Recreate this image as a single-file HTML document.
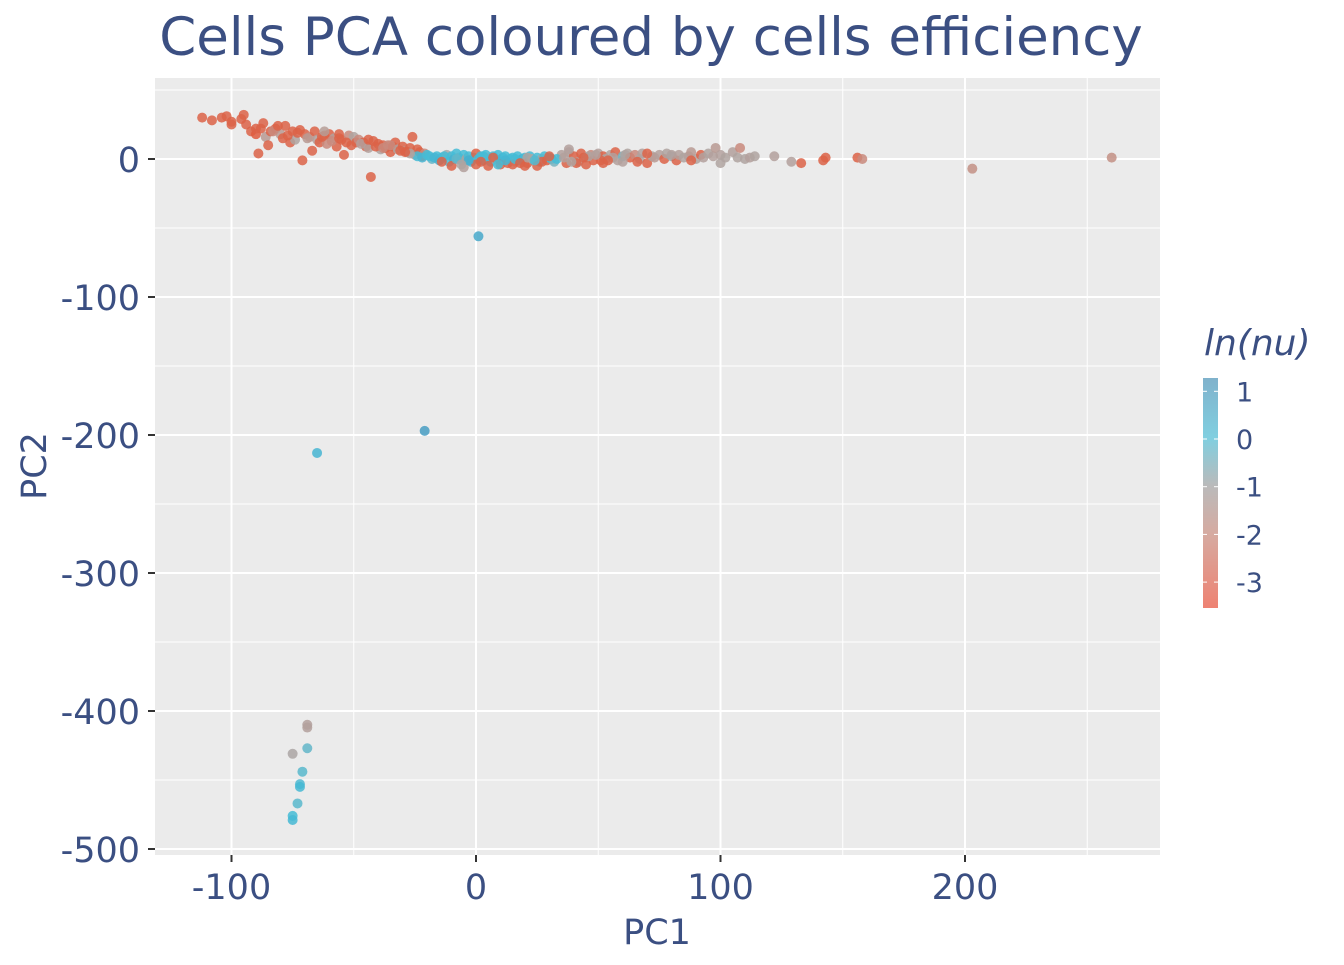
<!DOCTYPE html>
<html><head><meta charset="utf-8"><style>
body{margin:0;background:#fff;}
svg text{font-family:"DejaVu Sans","Liberation Sans",sans-serif;fill:#3b4f82;}
</style></head><body>
<svg id="chart" width="1344" height="960" xmlns="http://www.w3.org/2000/svg">
<text x="651" y="55" font-size="53" text-anchor="middle">Cells PCA coloured by cells efficiency</text>
<rect x="155" y="78" width="1005" height="777" fill="#ebebeb"/>
<g id="grid"></g><g id="points"></g><g id="axes"></g>
<text x="657" y="944" font-size="35" text-anchor="middle">PC1</text>
<text transform="translate(46,466) rotate(-90)" font-size="35" text-anchor="middle">PC2</text>
<text x="1204" y="355" font-size="36" font-style="italic">ln(nu)</text>
<defs><linearGradient id="cg" x1="0" y1="1" x2="0" y2="0">
<stop offset="0" stop-color="#ee8272"/><stop offset="0.32" stop-color="#d6aaa0"/><stop offset="0.53" stop-color="#bababa"/><stop offset="0.74" stop-color="#80cfe0"/><stop offset="1" stop-color="#80b2cc"/></linearGradient></defs>
<rect x="1203" y="378" width="15" height="230" fill="url(#cg)"/>
<g id="legend"></g>
</svg>
<script>
const pc1=[-112,-108,-104,-102,-100,-100,-96,-95,-94,-92,-90,-89,-88,-86,-85,-84,-82,-80,-79,-78,-76,-75,-74,-72,-71,-70,-68,-67,-66,-65,-64,-62,-61,-60,-58,-57,-56,-55,-54,-52,-51,-50,-49,-48,-46,-45,-44,-43,-42,-40,-39,-38,-37,-36,-35,-34,-33,-32,-30,-29,-28,-27,-26,-25,-24,-23,-22,-21,
-24,-22,-20,-18,-16,-15,-14,-12,-11,-10,-9,-8,-7,-6,-5,-4,-3,-2,-1,0,1,2,3,4,5,6,7,8,9,10,11,12,13,14,15,16,17,18,19,20,21,22,23,24,25,26,27,28,29,30,31,32,-10,-5,0,5,10,15,20,25,
35,37,38,40,42,43,45,47,48,50,52,53,55,57,58,60,62,63,65,67,68,70,72,73,75,77,78,80,82,83,85,87,88,90,92,93,95,97,98,100,102,105,107,108,110,112,114,38,45,52,60,70,80,88,100,
122,129,133,142,143,156,158,203,260,1,-21,-65,-69,-69,-75,-69,-71,-72,-72,-73,-75,-75,
-90,-83,-77,-73,-69,-63,-59,-53,-47,-41,-38,-31,-27,-19,-17,-13,-8,-3,3,7,12,16,21,27,33,36,41,46,51,56,61,66,-87,-81,-62,-56,-44,-35,-29,-14,-6,2,9,18,24,30,39,44,49,54];
const pc2=[30,28,30,31,27,25,29,32,25,20,18,4,22,16,10,20,22,18,15,24,12,20,14,21,-1,18,16,6,20,14,12,17,11,18,15,9,18,14,3,17,10,16,12,14,12,9,8,-13,13,11,7,10,8,10,5,9,12,7,9,6,5,8,16,3,7,5,2,4,
2,1,3,0,2,-1,1,3,-2,2,0,4,1,-1,3,0,2,-2,1,4,0,2,-1,3,1,-2,2,0,3,-1,1,2,-3,0,1,-2,2,-1,0,1,-3,2,0,-1,1,-2,0,2,-1,1,0,-2,-5,-6,-4,-5,-4,-4,-5,-5,
3,-3,5,2,-2,4,1,3,-1,4,2,0,3,5,-1,2,4,1,3,0,4,-3,2,1,3,0,4,2,-1,3,1,2,5,0,3,1,4,2,8,3,1,5,1,8,0,1,2,7,-4,-3,-2,4,3,-1,-3,
2,-2,-3,-1,1,1,0,-7,1,-56,-197,-213,-410,-412,-431,-427,-444,-453,-455,-467,-476,-479,
22,20,17,19,15,16,13,12,11,9,8,6,4,2,1,2,0,-1,2,1,-1,0,1,-2,0,1,-3,2,-1,1,3,-2,26,24,20,15,14,10,5,-2,-4,-2,-4,-3,-1,2,-2,1,3,-1];
const lnnu=[-3,-3,-3,-3,-3,-3,-3,-3,-3,-3,-3.2,-3,-3,-1.5,-3,-3,-3,-1.5,-3,-3,-3,-3,-1.2,-3,-3,-3,-2,-3,-3,-1.3,-3,-3,-2,-3,-1.3,-3,-3,-3,-3,-2,-3,-1.2,-3,-2,-3,-3,-1.3,-3,-3,-3,-1.2,-3,-3,-2,-3,-3,-3,-1.2,-3,-2,-3,-3,-3,-1.3,-3,-3,-3,-2,
0,0.2,0,-0.3,0,0.5,0,-1,0,0,0.3,0,-0.2,0,0,-1.2,0,0.2,0,-3,0,0,0.4,0,-0.5,0,0,-1,0,0,0.2,0,-3,0,0,-1.2,0,0,0.3,0,-3,0,-1,0,0,0.2,-1.3,0,-3,0,0,-0.5,-3,-1.3,-3,-3,-3,-3,-3,-3,
-1.3,-3,-1.2,-3,-1.5,-3,-1.2,-2,-3,-1.3,-3,-1,-1.2,-3,-1.3,-0.5,-1.2,-3,-2,-1,-1.3,-3,-1.2,-1.5,-1.3,-3,-1.2,-0.8,-3,-1.3,-1.2,-1.3,-1.5,-1.2,-3,-1.3,-1.2,-1.3,-1.5,-1.3,-1.2,-1.3,-1.2,-2,-1.2,-1.3,-1.2,-1.3,-3,-3,-1.3,-3,-1.3,-3,-1.2,
-1.3,-1.3,-3,-3,-3,-3,-2,-1.8,-1.8,0.6,0.9,0.2,-1.3,-1.3,-1.1,-0.3,-0.2,-0.1,0.1,-0.2,0,0.1,
-3,-2,-3,-3,-1.5,-3,-2,-3,-1.3,-3,-2,-3,-1.2,0,0.2,0,-0.3,0.4,0,-3,0.2,0,-1.2,-3,0,-1.3,-3,-1.2,-3,-1.3,-1.2,-3,-3,-3,-1.4,-3,-3,-2,-3,-3,-1.2,-3,0,-3,-0.2,-3,-1.2,-3,-1.3,-3];
const xTicks=[-100,0,100,200];
const xMinor=[-50,50,150,250];
const yTicks=[0,-100,-200,-300,-400,-500];
const yMinor=[50,-50,-150,-250,-350,-450];
const legendTicks=[1,0,-1,-2,-3];

const NS='http://www.w3.org/2000/svg';
const X=v=>476+v*2.445, Y=v=>159-v*1.38, L=v=>439-v*47.7;
function mk(tag,attrs,parent){const e=document.createElementNS(NS,tag);for(const k in attrs)e.setAttribute(k,attrs[k]);parent.appendChild(e);return e;}
const stops=[[-3.5,[229,80,46]],[-2,[201,138,124]],[-1,[169,169,169]],[0,[69,188,214]],[1.3,[74,144,187]]];
function col(v){if(v<=stops[0][0])return 'rgb('+stops[0][1]+')';for(let i=1;i<stops.length;i++){if(v<=stops[i][0]){const a=stops[i-1],b=stops[i],t=(v-a[0])/(b[0]-a[0]);return 'rgb('+a[1].map((c,j)=>Math.round(c+(b[1][j]-c)*t))+')';}}return 'rgb('+stops[stops.length-1][1]+')';}
const g=document.getElementById('grid'),p=document.getElementById('points'),ax=document.getElementById('axes'),lg=document.getElementById('legend');
xMinor.forEach(v=>{const e=mk('line',{x1:X(v),x2:X(v),y1:78,y2:855,stroke:'#fff','stroke-width':1},g);});
yMinor.forEach(v=>{const e=mk('line',{x1:155,x2:1160,y1:Y(v),y2:Y(v),stroke:'#fff','stroke-width':1},g);});
xTicks.forEach(v=>{const e=mk('line',{x1:X(v),x2:X(v),y1:78,y2:855,stroke:'#fff','stroke-width':2},g);
const t=mk('line',{x1:X(v),x2:X(v),y1:855,y2:862,stroke:'#333','stroke-width':2},ax);
const l=mk('text',{x:X(v),y:899,'font-size':35,'text-anchor':'middle'},ax);l.textContent=v;});
yTicks.forEach(v=>{const e=mk('line',{x1:155,x2:1160,y1:Y(v),y2:Y(v),stroke:'#fff','stroke-width':2},g);
const t=mk('line',{x1:148,x2:155,y1:Y(v),y2:Y(v),stroke:'#333','stroke-width':2},ax);
const l=mk('text',{x:140,y:Y(v)+13,'font-size':35,'text-anchor':'end'},ax);l.textContent=v;});
pc1.forEach((v,i)=>{const c=mk('circle',{cx:X(v),cy:Y(pc2[i]),r:5,fill:col(lnnu[i]),'fill-opacity':0.85},p);});
legendTicks.forEach(v=>{const t=mk('line',{x1:1203,x2:1207,y1:L(v),y2:L(v),stroke:'#fff','stroke-width':1},lg);
const t2=mk('line',{x1:1214,x2:1218,y1:L(v),y2:L(v),stroke:'#fff','stroke-width':1},lg);
const l=mk('text',{x:1236,y:L(v)+10,'font-size':27},lg);l.textContent=v;});
</script>
</body></html>
